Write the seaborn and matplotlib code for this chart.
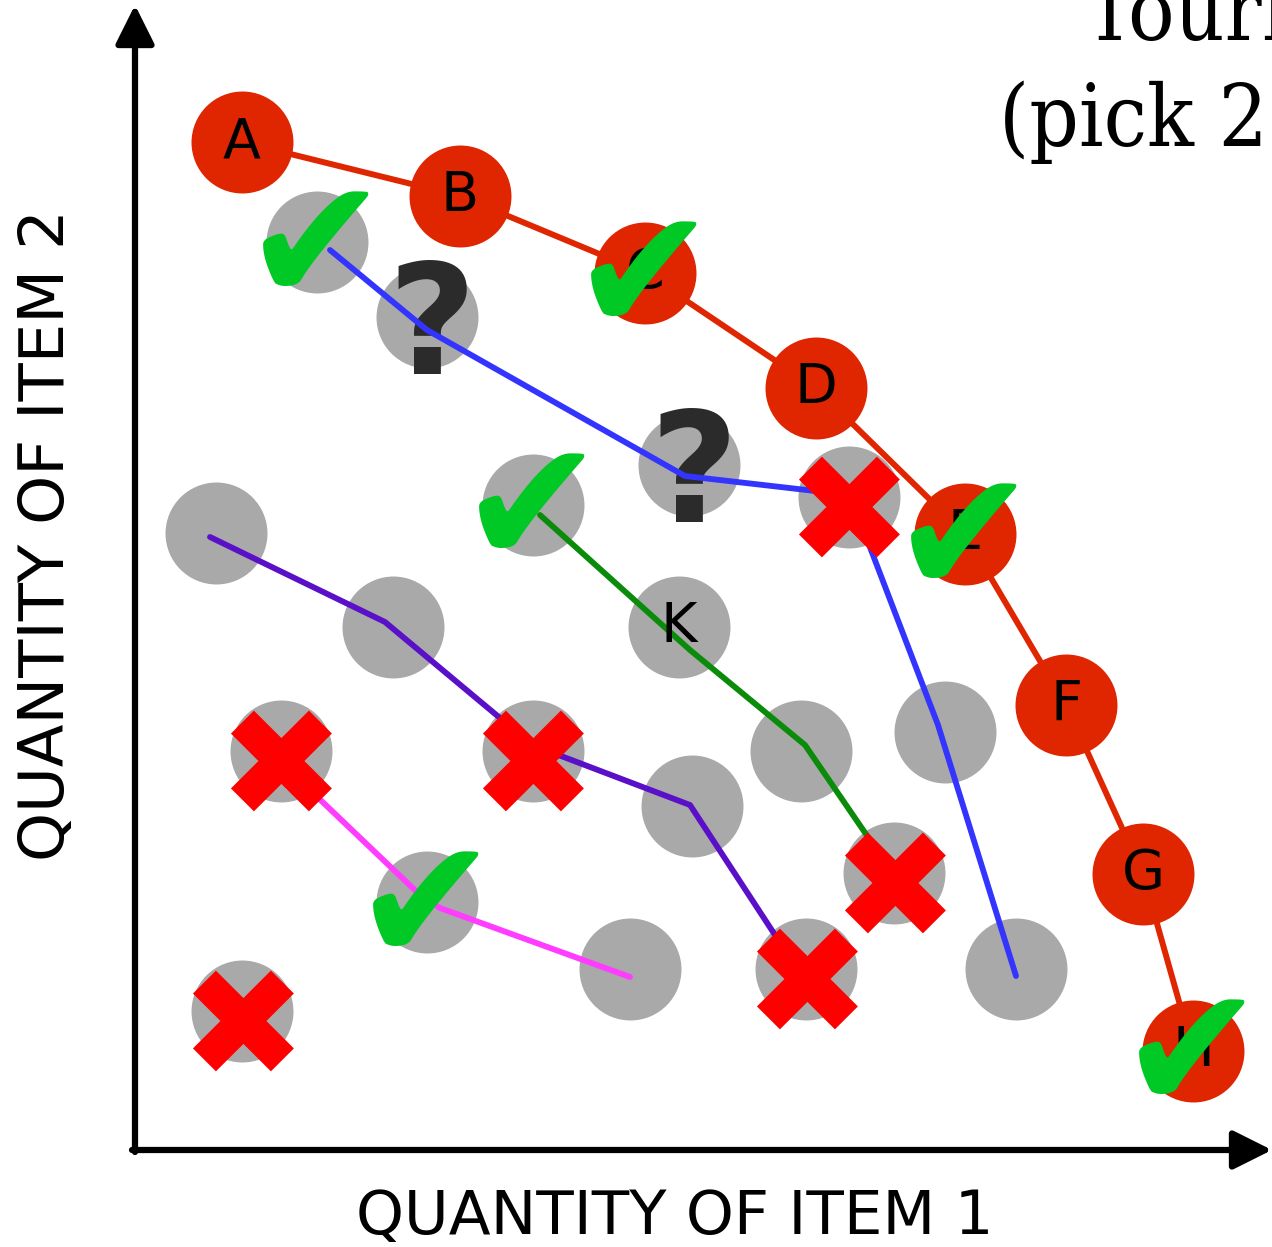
import matplotlib
matplotlib.use("Agg")
import matplotlib.pyplot as plt
import seaborn as sns
import pandas as pd

sns.set_style("white")
plt.rcParams['font.family'] = ['DejaVu Sans']

# ---------------- data ----------------
# Frontier bundles (quantity of item 1, quantity of item 2)
frontier_labels = ["A", "B", "C", "D", "E", "F", "G", "H"]
frontier_q1 = [107, 325, 510, 681, 830, 931, 1008, 1058]
frontier_q2 = [1008, 954, 877, 762, 616, 445, 276, 99]
frontier_verdict = ["", "", "check", "", "check", "", "", "check"]

# Other (interior) bundles
other_q1 = [182, 292, 554, 714, 398, 81, 258, 544, 810, 146, 398, 666, 557, 759, 292, 495, 671, 881, 107]
other_q2 = [908, 833, 685, 653, 645, 617, 523, 523, 418, 399, 399, 399, 344, 277, 248, 181, 181, 181, 139]
other_labels = ["", "", "", "", "", "", "", "K", "", "", "", "", "", "", "", "", "", "", ""]
other_verdict = ["check", "question", "question", "cross", "check", "", "", "", "",
                 "cross", "cross", "", "", "cross", "check", "", "cross", "", "cross"]

# Comparison paths
blue_q1 = [195, 292, 550, 715, 803, 881]
blue_q2 = [900, 820, 674, 655, 425, 174]
green_q1 = [405, 555, 670, 735]
green_q2 = [635, 500, 405, 310]
purple_q1 = [75, 250, 365, 405, 555, 640]
purple_q2 = [613, 528, 432, 402, 345, 215]
magenta_q1 = [175, 285, 305, 495]
magenta_q2 = [360, 255, 242, 173]

title_line1 = "Tournament"
title_line2 = "(pick 2)"
xlabel = "QUANTITY OF ITEM 1"
ylabel = "QUANTITY OF ITEM 2"

# ---------------- style ----------------
RED = "#e02600"
GRAY = "#a8a9a8"
GREEN = "#00c824"
XRED = "#ff0000"
QCOL = "#2b2b2b"

fig = plt.figure(figsize=(12.72, 12.47), dpi=100)
ax = fig.add_axes([0, 0, 1, 1])
ax.set_xlim(-135, 1137)
ax.set_ylim(-97, 1150)
ax.set_axis_off()

frontier = pd.DataFrame({"q1": frontier_q1, "q2": frontier_q2})
others = pd.DataFrame({"q1": other_q1, "q2": other_q2})

S = 5390  # marker area (pt^2) ~ 102 px diameter

# frontier line + circles
sns.lineplot(data=frontier, x="q1", y="q2", sort=False, estimator=None,
             color=RED, linewidth=4.3, ax=ax, zorder=1)
sns.scatterplot(data=others, x="q1", y="q2", s=S, color=GRAY, linewidth=0,
                ax=ax, zorder=2, legend=False)
sns.scatterplot(data=frontier, x="q1", y="q2", s=S, color=RED, linewidth=0,
                ax=ax, zorder=2, legend=False)

# question marks (under paths)
for x, y, v in zip(other_q1, other_q2, other_verdict):
    if v == "question":
        ax.text(x + 5, y - 15, "?", fontsize=110, fontweight="bold", color=QCOL,
                ha="center", va="center", zorder=2.5)

# comparison paths
for xs, ys, col in [(blue_q1, blue_q2, "#3434ff"),
                    (green_q1, green_q2, "#0a8c0a"),
                    (purple_q1, purple_q2, "#5a10c8"),
                    (magenta_q1, magenta_q2, "#ff3cff")]:
    sns.lineplot(x=xs, y=ys, sort=False, estimator=None, color=col,
                 linewidth=4.2, ax=ax, zorder=3)

# letters
for x, y, t in zip(frontier_q1, frontier_q2, frontier_labels):
    ax.text(x, y, t, fontsize=40, color="black", ha="center", va="center", zorder=4)
for x, y, t in zip(other_q1, other_q2, other_labels):
    if t:
        ax.text(x, y, t, fontsize=40, color="black", ha="center", va="center", zorder=4)

# verdict marks
def mark(x, y, v):
    if v == "check":
        ax.text(x - 1, y - 10, "\u2714", fontsize=125, color=GREEN,
                ha="center", va="center", zorder=5)
    elif v == "cross":
        ax.text(x, y - 23, "\u2716", fontsize=109, color=XRED,
                ha="center", va="center", zorder=5)

for x, y, v in zip(frontier_q1, frontier_q2, frontier_verdict):
    mark(x, y, v)
for x, y, v in zip(other_q1, other_q2, other_verdict):
    mark(x, y, v)

# axes arrows
arrow = dict(arrowstyle="-|>,head_length=1.7,head_width=0.85", color="black",
             linewidth=4.5, shrinkA=0, shrinkB=0, mutation_scale=14)
ax.annotate("", xy=(0, 1145), xytext=(0, -2), arrowprops=arrow, zorder=6,
            annotation_clip=False)
ax.annotate("", xy=(1137, 0), xytext=(-3, 0), arrowprops=arrow, zorder=6,
            annotation_clip=False)

# axis labels
ax.text(540, -68, xlabel, fontsize=44, ha="center", va="center", color="black")
ax.text(-88, 615, ylabel, fontsize=45, ha="center", va="center", rotation=90, color="black")

# title (partly outside the canvas, as in the reference)
ax.text(948, 1110, title_line1, fontsize=62, family="DejaVu Serif", fontstretch="condensed",
        ha="left", va="baseline", color="black")
ax.text(864, 1004, title_line2, fontsize=62, family="DejaVu Serif", fontstretch="condensed",
        ha="left", va="baseline", color="black")

fig.savefig("out.png", dpi=100)
